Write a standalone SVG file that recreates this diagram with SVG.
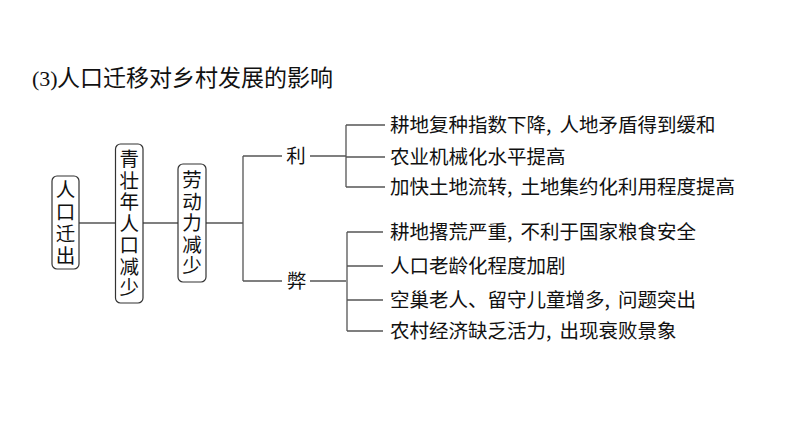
<svg xmlns="http://www.w3.org/2000/svg" width="794" height="447" viewBox="0 0 794 447">
<style>
.t{font-family:"Noto Sans CJK SC","Noto Sans",sans-serif;font-size:19.5px;fill:#111}
.c{text-anchor:middle}
.v{writing-mode:vertical-rl;text-anchor:start}
.box{fill:#fff;stroke:#333;stroke-width:1.2}
.ln{stroke:#555;stroke-width:1.3;fill:none}
</style>
<rect width="794" height="447" fill="#fff"/>
<text id="title" x="32" y="86" style="font-family:'Liberation Serif',serif;font-size:22px;fill:#111">(3)<tspan x="57" style="font-family:'Noto Sans CJK SC',sans-serif;font-size:23px">人口迁移对乡村发展的影响</tspan></text>
<g id="connectors">
<path class="ln" d="M79 223H115M143 223H178M206 223H243M243 156V281M243 156H282M310 156H346M243 281H282M310 281H346"/>
<path class="ln" d="M346 125V187M346 125H385M346 157H385M346 187H385"/>
<path class="ln" d="M347 232V331M347 232H383M347 266H383M347 300H383M347 331H383"/>
</g>
<g id="n1">
<rect class="box" x="52" y="176" width="27" height="93" rx="5"/>
<text class="t v" x="65.5" y="179.5" style="letter-spacing:2.5px">人口迁出</text>
</g>
<g id="n2">
<rect class="box" x="115.5" y="144" width="27.5" height="159" rx="5"/>
<text class="t v" x="129.2" y="149.2" style="letter-spacing:2px">青壮年人口减少</text>
</g>
<g id="n3">
<rect class="box" x="178" y="164" width="28" height="118" rx="5"/>
<text class="t v" x="192" y="170.2" style="letter-spacing:2px">劳动力减少</text>
</g>
<g id="li"><text class="t c" x="296" y="163">利</text></g>
<g id="bi"><text class="t c" x="296.5" y="288">弊</text></g>
<g id="pros">
<text class="t" x="390" y="132">耕地复种指数下降,<tspan dx="8">人地矛盾得到缓和</tspan></text>
<text class="t" x="390" y="164">农业机械化水平提高</text>
<text class="t" x="390" y="194">加快土地流转,<tspan dx="8">土地集约化利用程度提高</tspan></text>
</g>
<g id="cons">
<text class="t" x="390" y="239">耕地撂荒严重,<tspan dx="8">不利于国家粮食安全</tspan></text>
<text class="t" x="390" y="273">人口老龄化程度加剧</text>
<text class="t" x="390" y="307">空巢老人、留守儿童增多,<tspan dx="8">问题突出</tspan></text>
<text class="t" x="390" y="338">农村经济缺乏活力,<tspan dx="8">出现衰败景象</tspan></text>
</g>
</svg>
